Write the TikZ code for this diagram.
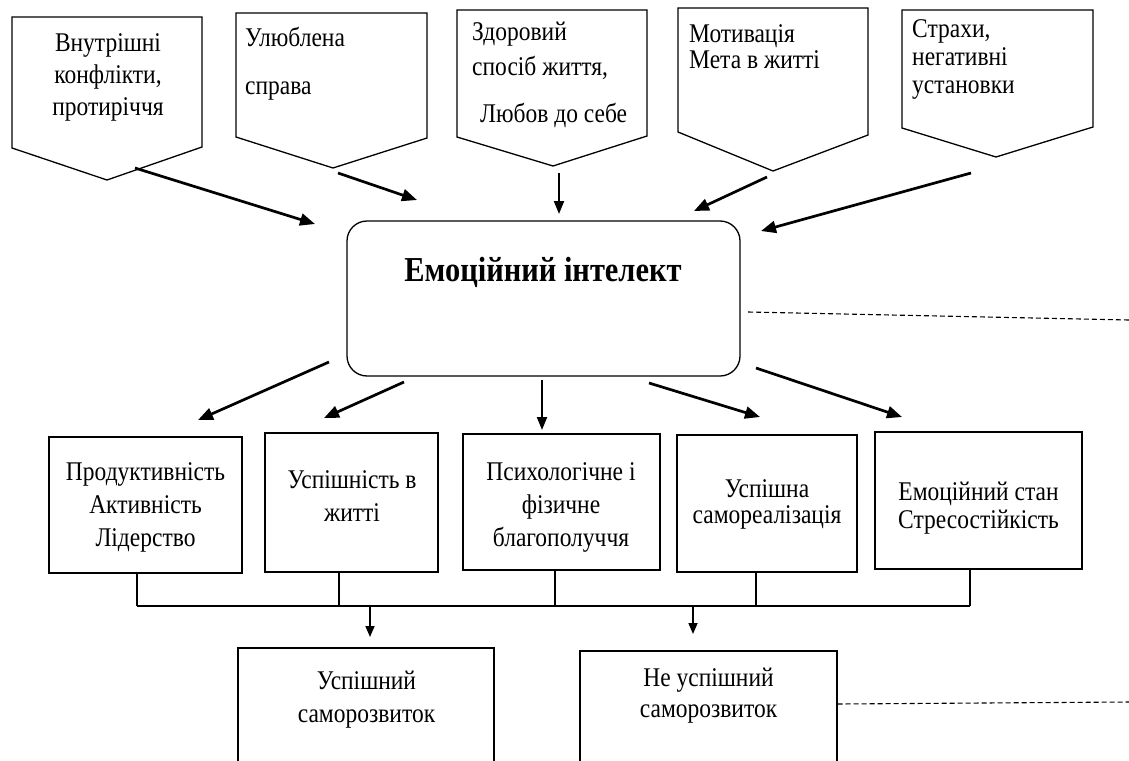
\documentclass[tikz,border=0pt]{standalone}
\usepackage{fontspec}
\setmainfont[FakeStretch=0.87]{Liberation Serif}
\usetikzlibrary{arrows.meta}
\begin{document}
\begin{tikzpicture}[x=1pt,y=-1pt,
  shapeline/.style={draw=black,line width=1.3pt},
  pentbox/.style={shapeline,line join=miter},
  rectbox/.style={shapeline,inner sep=0pt},
  boxtext/.style={inner sep=0pt,font=\fontsize{27}{#1}\selectfont},
  bigarrow/.style={line width=2.7pt,-{Triangle[length=15pt,width=12pt]}},
  midarrow/.style={line width=2.1pt,-{Triangle[length=13pt,width=10pt]}},
  smallarrow/.style={line width=1.7pt,-{Triangle[length=11pt,width=9pt]}},
  busline/.style={line width=2.8pt},
  dashline/.style={line width=1.1pt,dash pattern=on 5pt off 3pt}]
\useasboundingbox (0,0) rectangle (1129,760);
\fill[white] (0,0) rectangle (1129,760);

% upper pentagon boxes
\draw[pentbox] (12,17) -- (202,17) -- (202,147) -- (107,180) -- (12,148) -- cycle;
\draw[pentbox] (236,13) -- (427,13) -- (427,138) -- (333,168) -- (236,137) -- cycle;
\draw[pentbox] (457,10) -- (647,10) -- (647,136) -- (553,166) -- (457,137) -- cycle;
\draw[pentbox] (678,8) -- (868,8) -- (868,135) -- (773,171) -- (678,132) -- cycle;
\draw[pentbox] (902,10) -- (1093,10) -- (1093,127) -- (996,157) -- (902,128) -- cycle;

\node[boxtext=32,align=center,anchor=north] (t1) at (108,33) {Внутрішні\\конфлікти,\\протиріччя};
\node[boxtext=48,align=left,anchor=north west] (t2) at (245,27) {Улюблена\\справа};
\node[boxtext=35,align=left,anchor=north west] (t3) at (472,22) {Здоровий\\спосіб життя,\\[12pt]\hspace*{8pt}Любов до себе};
\node[boxtext=26,align=left,anchor=north west] (t4) at (689,24) {Мотивація\\Мета в житті};
\node[boxtext=28,align=left,anchor=north west] (t5) at (912,19) {Страхи,\\негативні\\установки};

% central rounded box
\node[shapeline,rounded corners=20pt,minimum width=393pt,minimum height=155pt,inner sep=0pt] (ei) at (543.5,298.5) {};
\node[inner sep=0pt,anchor=base,font=\fontsize{35}{40}\selectfont\bfseries] (eit) at (543,281) {Емоційний інтелект};

% lower boxes
\node[rectbox,minimum width=193pt,minimum height=136pt] (b1) at (145.5,505) {};
\node[rectbox,minimum width=173pt,minimum height=139pt] (b2) at (351.5,502.5) {};
\node[rectbox,minimum width=197pt,minimum height=136pt] (b3) at (561.5,502) {};
\node[rectbox,minimum width=180pt,minimum height=137pt] (b4) at (767,503.5) {};
\node[rectbox,minimum width=207pt,minimum height=137pt] (b5) at (978.5,500.5) {};
\node[boxtext=33,align=center,anchor=north] (bt1) at (145.5,462) {Продуктивність\\Активність\\Лідерство};
\node[boxtext=33,align=center,anchor=north] (bt2) at (352,470) {Успішність в\\житті};
\node[boxtext=33,align=center,anchor=north] (bt3) at (561,462) {Психологічне і\\фізичне\\благополуччя};
\node[boxtext=26,align=center,anchor=north] (bt4) at (767,479) {Успішна\\самореалізація};
\node[boxtext=28,align=center,anchor=north] (bt5) at (978.5,482) {Емоційний стан\\Стресостійкість};

% bottom boxes
\node[rectbox,minimum width=256pt,minimum height=137pt] (u1) at (366,716.5) {};
\node[rectbox,minimum width=257pt,minimum height=134pt] (u2) at (708.5,718) {};
\node[boxtext=33,align=center,anchor=north] (ut1) at (366.5,671) {Успішний\\саморозвиток};
\node[boxtext=31,align=center,anchor=north] (ut2) at (708.5,668) {Не успішний\\саморозвиток};

% arrow end points
\coordinate (a1s) at (135,168); \coordinate (a1e) at (315,224);
\coordinate (a2s) at (338,173); \coordinate (a2e) at (417,200);
\coordinate (a3s) at (559,173); \coordinate (a3e) at (559,214);
\coordinate (a4s) at (767,177); \coordinate (a4e) at (694,211);
\coordinate (a5s) at (971,173); \coordinate (a5e) at (761,231);
\draw[bigarrow] (a1s) -- (a1e);
\draw[bigarrow] (a2s) -- (a2e);
\draw[midarrow] (a3s) -- (a3e);
\draw[bigarrow] (a4s) -- (a4e);
\draw[bigarrow] (a5s) -- (a5e);

\coordinate (l1s) at (329,362); \coordinate (l1e) at (198,420);
\coordinate (l2s) at (404,382); \coordinate (l2e) at (324,418);
\coordinate (l3s) at (542,380); \coordinate (l3e) at (542,430);
\coordinate (l4s) at (649,383); \coordinate (l4e) at (760,417);
\coordinate (l5s) at (756,368); \coordinate (l5e) at (902,417);
\draw[bigarrow] (l1s) -- (l1e);
\draw[bigarrow] (l2s) -- (l2e);
\draw[midarrow] (l3s) -- (l3e);
\draw[bigarrow] (l4s) -- (l4e);
\draw[bigarrow] (l5s) -- (l5e);

% bus
\coordinate (busl) at (137,606); \coordinate (busr) at (970,606);
\draw[busline] (busl) -- (busr);
\draw[busline] (b1.south -| busl) -- (busl);
\draw[busline] (b2.south -| 339,0) -- (339,606);
\draw[busline] (b3.south -| 555,0) -- (555,606);
\draw[busline] (b4.south -| 756,0) -- (756,606);
\draw[busline] (b5.south -| busr) -- (busr);
\coordinate (d1) at (370,606); \coordinate (d2) at (693,606);
\draw[smallarrow] (d1) -- (d1 |- 0,637);
\draw[smallarrow] (d2) -- (d2 |- 0,634);

% dashed lines
\coordinate (ds1) at (748,312); \coordinate (de1) at (1129,320);
\draw[dashline] (ds1) -- (de1);
\coordinate (de2) at (1129,702);
\draw[dashline] (u2.east |- 0,704) -- (de2);
\end{tikzpicture}
\end{document}
